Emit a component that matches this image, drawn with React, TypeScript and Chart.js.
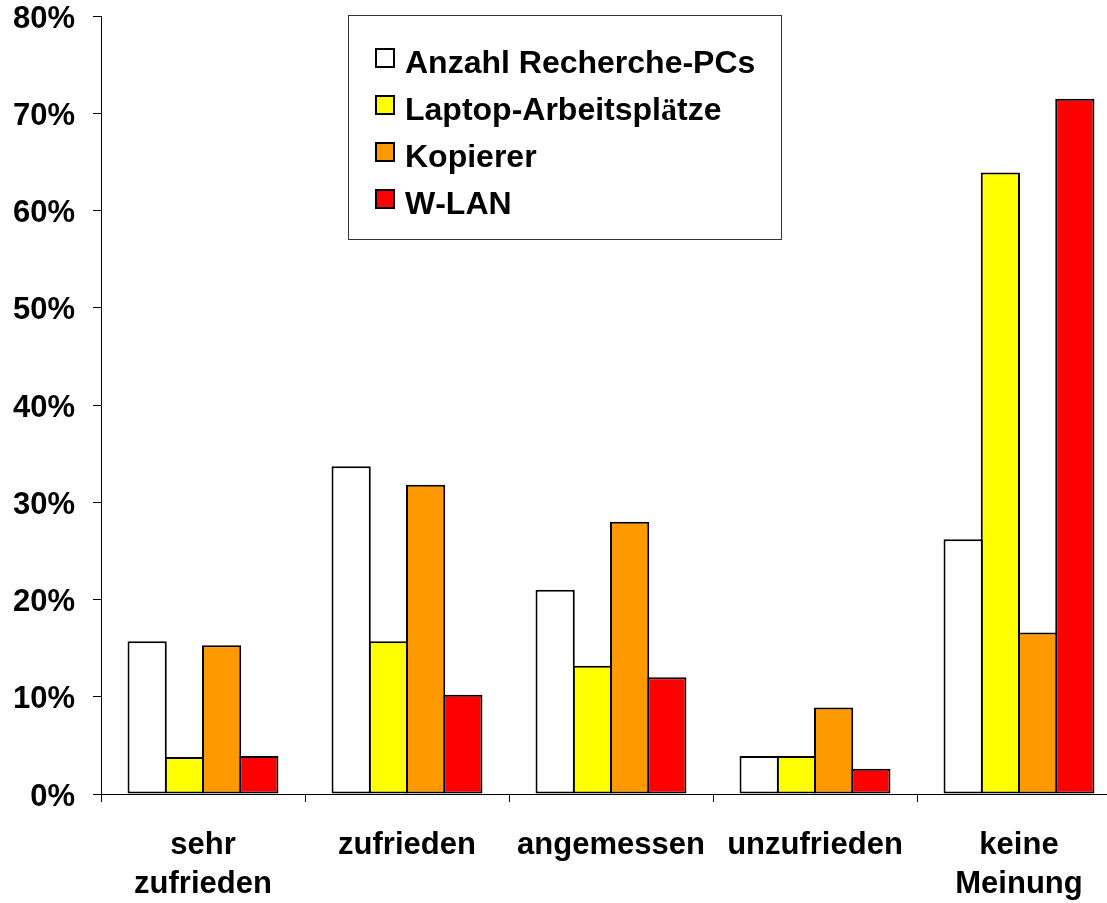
import React, { useEffect, useRef } from "react";
import { Chart, registerables } from "chart.js";

Chart.register(...registerables);

const categories: (string | string[])[] = [
  ["sehr", "zufrieden"],
  "zufrieden",
  "angemessen",
  "unzufrieden",
  ["keine", "Meinung"],
];
const seriesNames = ["Anzahl Recherche-PCs", "Laptop-Arbeitsplätze", "Kopierer", "W-LAN"];
const recherchePCs = [15.7, 33.7, 21.0, 3.9, 26.2];
const laptopPlaetze = [3.8, 15.7, 13.2, 3.9, 63.9];
const kopierer = [15.3, 31.8, 28.0, 8.9, 16.6];
const wlan = [3.9, 10.2, 12.0, 2.6, 71.5];
const seriesColors = ["#FFFFFF", "#FFFF00", "#FF9900", "#FF0000"];
const yMin = 0;
const yMax = 80;
const yStep = 10;

const FONT = "'Liberation Sans', Arial, sans-serif";

const legendPlugin = {
  id: "boxLegend",
  afterDraw(chart: any) {
    const ctx = chart.ctx as CanvasRenderingContext2D;
    ctx.save();
    ctx.strokeStyle = "#333333";
    ctx.lineWidth = 1;
    ctx.strokeRect(348.5, 15.5, 433, 224);
    chart.data.datasets.forEach((ds: any, i: number) => {
      const y0 = 48 + i * 47;
      ctx.fillStyle = ds.backgroundColor;
      ctx.fillRect(375, y0, 20, 20);
      ctx.strokeStyle = "#000";
      ctx.lineWidth = 2;
      ctx.strokeRect(376, y0 + 1, 18, 18);
      let x = 405;
      ctx.fillStyle = "#000";
      ctx.textBaseline = "alphabetic";
      ctx.textAlign = "left";
      for (const ch of String(ds.label)) {
        ctx.font = ch === "ä" ? "bold 32px 'Liberation Serif', serif" : `bold 32px ${FONT}`;
        ctx.fillText(ch, x, y0 + 25);
        x += ctx.measureText(ch).width;
      }
    });
    ctx.restore();
  },
};

export default function App() {
  const ref = useRef<HTMLCanvasElement | null>(null);
  useEffect(() => {
    if (!ref.current) return;
    const values = [recherchePCs, laptopPlaetze, kopierer, wlan];
    const chart = new Chart(ref.current, {
      type: "bar",
      data: {
        labels: categories,
        datasets: seriesNames.map((name, i) => ({
          label: name,
          data: values[i],
          backgroundColor: seriesColors[i],
          borderColor: "#000000",
          borderWidth: 2,
          borderSkipped: false,
          barPercentage: 1.054,
          categoryPercentage: 0.73,
        })),
      },
      options: {
        responsive: false,
        animation: false,
        devicePixelRatio: 1,
        layout: { padding: { top: 0, right: 4, bottom: 0, left: 0 } },
        plugins: {
          legend: { display: false },
          tooltip: { enabled: false },
        },
        scales: {
          x: {
            offset: true,
            grid: {
              offset: true,
              drawOnChartArea: false,
              drawTicks: true,
              tickLength: 8,
              color: "#000",
              lineWidth: 1,
            },
            border: { display: true, color: "#000", width: 1 },
            ticks: {
              color: "#000",
              font: { family: FONT, size: 31, weight: "bold", lineHeight: 1.25 },
              padding: 24,
              maxRotation: 0,
              autoSkip: false,
            },
            afterFit: (scale: any) => {
              scale.height = 109;
            },
          },
          y: {
            min: yMin,
            max: yMax,
            grid: {
              drawOnChartArea: false,
              drawTicks: true,
              tickLength: 8,
              color: "#000",
              lineWidth: 1,
            },
            border: { display: true, color: "#000", width: 1 },
            ticks: {
              stepSize: yStep,
              color: "#000",
              font: { family: FONT, size: 31, weight: "bold", lineHeight: 1 },
              padding: 18,
              labelOffset: 3,
              callback: (v: any) => `${v}%`,
            },
            afterFit: (scale: any) => {
              scale.width = 101;
              scale.paddingTop = 16;
              scale.paddingBottom = 0;
            },
          },
        },
      },
      plugins: [legendPlugin],
    });
    return () => chart.destroy();
  }, []);

  return (
    <div
      style={{
        position: "fixed",
        left: 0,
        top: 0,
        width: 1107,
        height: 903,
        overflow: "hidden",
        background: "#fff",
      }}
    >
      <canvas ref={ref} width={1125} height={903} style={{ display: "block" }} />
    </div>
  );
}
